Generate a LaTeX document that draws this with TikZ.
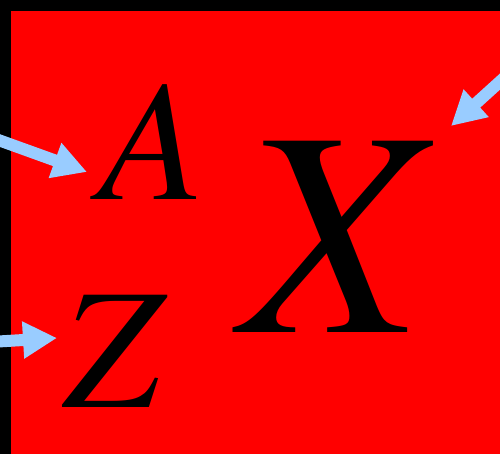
\documentclass[tikz,border=0pt]{standalone}
\usepackage{fontspec}
\setmainfont{TeX Gyre Termes}
\usetikzlibrary{arrows.meta}
\definecolor{arrowblue}{RGB}{153,204,255}
\tikzset{
  pointer/.style={draw=arrowblue, line width=12pt, -{Triangle[length=34pt,width=35pt]}, fill=arrowblue},
  letter/.style={inner sep=0pt, anchor=base, text=black}
}
\begin{document}
\begin{tikzpicture}[x=1pt,y=1pt]
\useasboundingbox (0,0) rectangle (500,454);
\clip (0,0) rectangle (500,454);
\fill[black] (0,0) rectangle (500,454);
\fill[red] (11,0) rectangle (510,443);
\node[letter] (A) at (152,254) {\fontsize{172}{172}\selectfont\itshape A};
\node[letter] (Z) at (111,46) {\fontsize{172}{172}\selectfont\itshape Z};
\node[letter] (X) at (331,121) {\fontsize{293}{293}\selectfont\itshape X};
\coordinate (s1) at (-10,317);
\coordinate (t1) at (87,282);
\coordinate (s2) at (-10,112);
\coordinate (t2) at (57,116);
\coordinate (s3) at (515,386);
\coordinate (t3) at (451,328);
\draw[pointer] (s1) -- (t1);
\draw[pointer] (s2) -- (t2);
\draw[pointer] (s3) -- (t3);
\end{tikzpicture}
\end{document}
